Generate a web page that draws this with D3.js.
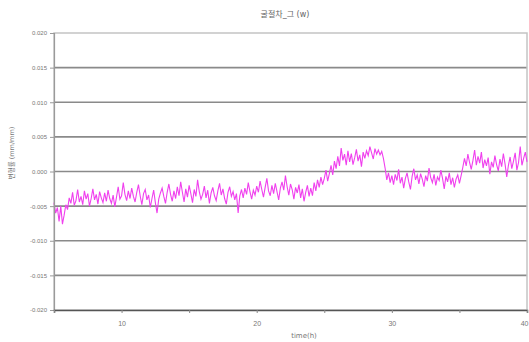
<!DOCTYPE html>
<html>
<head>
<meta charset="utf-8">
<script src="https://cdn.jsdelivr.net/npm/d3@7"></script>
<style>
  html, body { margin: 0; padding: 0; background: #fff; }
  svg { display: block; font-family: "DejaVu Sans", "Noto Sans CJK KR", sans-serif; }
</style>
</head>
<body>
<svg id="chart" width="529" height="342"></svg>
<script>
// chart text
const chartTitle = '굴절차_그 (w)';
const xTitle = 'time(h)';
const yTitle = '변형률   (mm/mm)';

// ticks
const yTickValues = [-20, -15, -10, -5, 0, 5, 10, 15, 20];
const yTickLabels = ['-0.020', '-0.015', '-0.010', '-0.005', '0.000', '0.005', '0.010', '0.015', '0.020'];
const xTickValues = [5, 10, 15, 20, 25, 30, 35, 40];
const xTickLabels = ['', '10', '', '20', '', '30', '', '40'];

// sampling of the record (hours)
const timeStart = 5;
const timeStep = 0.125;

// strain readings, x10^-3
const strain = [
  -4.5, -6.0, -5.2, -7.2, -5.0, -7.6, -6.3, -4.8,
  -5.5, -3.8, -4.6, -3.0, -4.9, -4.2, -2.6, -4.4,
  -3.6, -4.8, -2.8, -4.0, -3.2, -5.0, -3.9, -2.5,
  -4.1, -3.3, -4.7, -2.9, -3.8, -4.5, -3.1, -4.3,
  -2.7, -3.9, -4.6, -3.4, -5.1, -3.7, -2.2, -4.0,
  -3.5, -1.6, -3.3, -4.2, -2.8, -3.9, -2.4, -3.6,
  -4.4, -3.0, -1.9, -3.5, -4.8, -3.2, -2.6, -4.1,
  -3.4, -5.2, -3.9, -2.7, -4.5, -6.0, -4.0, -3.1,
  -2.4, -3.6, -4.6, -3.0, -1.8, -3.3, -4.3, -2.8,
  -3.9, -2.2, -3.5, -1.5, -3.0, -4.4, -2.5, -3.7,
  -2.0, -3.2, -4.5, -2.6, -3.6, -1.2, -2.9, -4.0,
  -3.3, -2.1, -3.8, -2.7, -4.6, -3.1, -2.3, -3.5,
  -4.2, -2.8, -1.7, -3.4, -2.5, -3.9, -4.7, -3.0,
  -2.2, -3.6, -2.9, -4.1, -3.2, -6.0, -3.5, -2.6,
  -3.8, -2.4, -3.3, -1.6, -2.9, -4.0, -2.7, -3.4,
  -2.1, -3.0, -1.4, -2.6, -3.7, -2.3, -1.0, -2.8,
  -3.5, -2.0, -3.2, -1.7, -2.9, -4.1, -2.4, -1.5,
  -2.7, -0.6, -2.2, -3.4, -1.8, -2.6, -4.0, -2.3,
  -3.1, -1.9, -3.8, -2.5, -4.3, -3.0, -2.0, -3.6,
  -2.4, -3.5, -1.6, -2.8, -1.2, -2.3, -0.8, -1.9,
  -1.0, 0.2, -1.4, -0.3, 0.9, -0.5, 1.5, 0.4,
  2.2, 0.8, 3.4, 1.6, 2.5, 0.9, 3.0, 1.4,
  2.6, 1.0, 2.0, 3.2, 1.5, 2.4, 0.7, 2.8,
  1.9, 3.0, 2.3, 3.6, 2.7, 1.8, 3.3, 2.5,
  3.1, 2.4, 2.9, 1.9, 0.5, -1.2, -0.2, -1.6,
  -0.6, -1.9, -0.4, -1.3, 0.3, -1.7, -0.8, -2.4,
  -1.0, -0.2, -1.5, -2.6, -0.7, 0.4, -1.2, -0.5,
  -1.8, -0.3, -1.1, -2.2, -0.6, -1.4, 0.5, -0.9,
  -1.6, -0.4, -2.0, -0.8, -1.3, 0.2, -1.0, -2.5,
  -0.7, -1.5, -0.2, -1.9, -0.9, -2.3, -1.1, -0.5,
  -1.7, -0.6, 0.6, 1.9, 0.8, 2.5, 1.3, 0.3,
  1.6, 3.1, 0.9, 2.2, 1.2, 2.8, 0.5, 1.7,
  0.8, 2.0, -0.4, 1.4, 0.6, 2.3, 1.0, 0.1,
  1.8, 0.7, 2.6, 1.1, -0.8, 0.9, 2.1, 0.4,
  1.5, 2.7, 0.2, 1.3, 3.6, 0.9, 1.9, 2.8,
  1.4
];

const svg = d3.select('#chart');
const width = 529, height = 342;
const margin = { top: 33, right: 2, bottom: 32, left: 54 };
const innerWidth = width - margin.left - margin.right;
const innerHeight = height - margin.top - margin.bottom;

const x = d3.scaleLinear().domain([5, 40]).range([0, innerWidth]);
const y = d3.scaleLinear().domain([-20, 20]).range([innerHeight, 0]);

const g = svg.append('g')
  .attr('transform', `translate(${margin.left},${margin.top})`);

// grid lines (plain lines, no axis text)
g.append('g')
  .selectAll('line')
  .data(yTickValues.slice(1, -1))
  .join('line')
  .attr('x1', 0)
  .attr('x2', innerWidth)
  .attr('y1', d => y(d))
  .attr('y2', d => y(d))
  .attr('stroke', '#8a8a8a')
  .attr('stroke-width', 1.6);

// frame
g.append('rect')
  .attr('width', innerWidth)
  .attr('height', innerHeight)
  .attr('fill', 'none')
  .attr('stroke', '#c4c4c4')
  .attr('stroke-width', 1.5);

// signal
const line = d3.line()
  .x((d, i) => x(timeStart + i * timeStep))
  .y(d => y(d));

g.append('path')
  .datum(strain)
  .attr('fill', 'none')
  .attr('stroke', '#f040ee')
  .attr('stroke-width', 1.1)
  .attr('d', line);

// y axis
g.append('g')
  .call(d3.axisLeft(y).tickValues(yTickValues).tickSize(4).tickPadding(3)
    .tickFormat((d, i) => yTickLabels[i]))
  .call(g => g.select('.domain').attr('stroke', '#9a9a9a').attr('stroke-width', 1.2))
  .call(g => g.selectAll('line').attr('stroke', '#9a9a9a'))
  .selectAll('text')
  .attr('fill', '#777')
  .attr('font-size', '6px');

// x axis
const xAxis = g.append('g')
  .attr('transform', `translate(0,${innerHeight})`)
  .call(d3.axisBottom(x).tickValues(xTickValues).tickSize(3).tickPadding(8)
    .tickFormat((d, i) => xTickLabels[i]))
  .call(g => g.select('.domain').attr('stroke', '#555').attr('stroke-width', 1.5))
  .call(g => g.selectAll('line').attr('stroke', '#888'));

xAxis.selectAll('text')
  .attr('fill', '#777')
  .attr('font-size', '7px')
  .filter(function () { return this.textContent === ''; })
  .remove();

// last label sits on the right edge
xAxis.selectAll('text')
  .filter(d => d === 40)
  .attr('text-anchor', 'end')
  .attr('dx', '1');

// titles
svg.append('text')
  .attr('x', 285)
  .attr('y', 17)
  .attr('text-anchor', 'middle')
  .attr('fill', '#666')
  .attr('font-size', '8px')
  .text(chartTitle);

svg.append('text')
  .attr('x', 304)
  .attr('y', 338)
  .attr('text-anchor', 'middle')
  .attr('fill', '#777')
  .attr('font-size', '7px')
  .text(xTitle);

svg.append('text')
  .attr('transform', 'translate(14,153) rotate(-90)')
  .attr('text-anchor', 'middle')
  .attr('fill', '#777')
  .attr('font-size', '6.5px')
  .text(yTitle);
</script>
</body>
</html>
